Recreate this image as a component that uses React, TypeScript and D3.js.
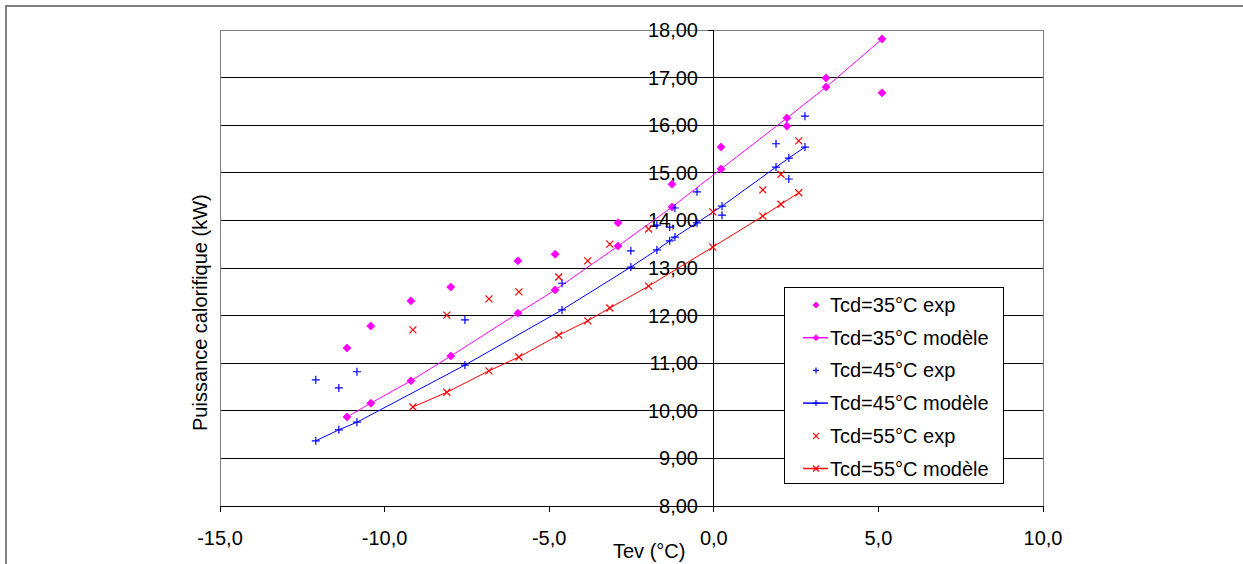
import React from 'react';
import * as d3 from 'd3';

// Tcd = 35°C
const tev35 = [-11.14, -10.42, -9.2, -7.99, -5.95, -4.82, -2.91, -1.27, 0.22, 2.22, 3.41, 5.11];
const exp35 = [11.32, 11.78, 12.31, 12.6, 13.15, 13.29, 13.95, 14.76, 15.54, 15.98, 16.99, 16.68];
const mod35 = [9.87, 10.16, 10.63, 11.15, 12.05, 12.54, 13.46, 14.28, 15.08, 16.15, 16.8, 17.81];

// Tcd = 45°C
const tev45 = [-12.09, -11.39, -10.84, -7.56, -4.61, -2.52, -1.73, -1.34, -1.18, -0.51, 0.25, 1.89, 2.28, 2.77];
const exp45 = [10.65, 10.48, 10.82, 11.91, 12.68, 13.36, 13.9, 13.86, 14.26, 14.6, 14.11, 15.61, 14.87, 16.19];
const mod45 = [9.37, 9.6, 9.76, 10.96, 12.12, 13.02, 13.38, 13.57, 13.65, 13.95, 14.3, 15.12, 15.31, 15.54];

// Tcd = 55°C
const tev55 = [-9.14, -8.11, -6.83, -5.92, -4.71, -3.83, -3.16, -1.98, -0.03, 1.49, 2.04, 2.58];
const exp55 = [11.7, 12.01, 12.35, 12.5, 12.81, 13.15, 13.5, 13.82, 14.18, 14.64, 14.97, 15.67];
const mod55 = [10.08, 10.39, 10.84, 11.13, 11.59, 11.89, 12.16, 12.62, 13.44, 14.09, 14.34, 14.58];

const xTicks = [-15, -10, -5, 0, 5, 10];
const yTicks = [8, 9, 10, 11, 12, 13, 14, 15, 16, 17, 18];

const legendLabels = [
  'Tcd=35°C exp',
  'Tcd=35°C modèle',
  'Tcd=45°C exp',
  'Tcd=45°C modèle',
  'Tcd=55°C exp',
  'Tcd=55°C modèle',
];

const W = 1243;
const H = 564;
const FONT = '"Liberation Sans", Arial, sans-serif';

const x = d3.scaleLinear().domain([-15, 10]).range([220, 1043]);
const y = d3.scaleLinear().domain([8, 18]).range([506, 30]);

const fmtX = (v: number) => v.toFixed(1).replace('.', ',');
const fmtY = (v: number) => v.toFixed(2).replace('.', ',');

type Kind = 'diamond' | 'plus' | 'cross';

function Marker({ kind, cx, cy, color, s }: { kind: Kind; cx: number; cy: number; color: string; s: number }) {
  if (kind === 'diamond') {
    return (
      <path
        d={`M${cx},${cy - s}L${cx + s},${cy}L${cx},${cy + s}L${cx - s},${cy}Z`}
        fill={color}
        stroke={color}
        strokeWidth={0.8}
      />
    );
  }
  if (kind === 'plus') {
    return (
      <path
        d={`M${cx - s},${cy}L${cx + s},${cy}M${cx},${cy - s}L${cx},${cy + s}`}
        stroke={color}
        strokeWidth={1.2}
        fill="none"
      />
    );
  }
  return (
    <path
      d={`M${cx - s},${cy - s}L${cx + s},${cy + s}M${cx - s},${cy + s}L${cx + s},${cy - s}`}
      stroke={color}
      strokeWidth={1.2}
      fill="none"
    />
  );
}

const series = [
  { tev: tev35, exp: exp35, mod: mod35, color: '#FF00FF', kind: 'diamond' as Kind, size: 4 },
  { tev: tev45, exp: exp45, mod: mod45, color: '#0000FF', kind: 'plus' as Kind, size: 4 },
  { tev: tev55, exp: exp55, mod: mod55, color: '#FF0000', kind: 'cross' as Kind, size: 3.5 },
];

export default function App() {
  const line = d3
    .line<[number, number]>()
    .x((d) => x(d[0]))
    .y((d) => y(d[1]));

  const legendX = 784;
  const legendY = 287;
  const legendW = 219;
  const legendH = 196;
  const rowY = (i: number) => 305 + i * 32.7;

  return (
    <svg
      width={W}
      height={H}
      style={{ position: 'absolute', left: 0, top: 0, background: '#fff' }}
      fontFamily={FONT}
    >
      <rect x={0} y={0} width={W} height={H} fill="#fff" />
      {/* outer frame */}
      <rect x={6} y={6} width={1260} height={620} fill="none" stroke="#808080" strokeWidth={2} />

      {/* gridlines */}
      {yTicks
        .filter((t) => t > 8 && t < 18)
        .map((t) => (
          <line
            key={'g' + t}
            x1={x(-15)}
            x2={x(10)}
            y1={y(t)}
            y2={y(t)}
            stroke="#000"
            strokeWidth={1}
            shapeRendering="crispEdges"
          />
        ))}
      {/* plot area border */}
      <rect
        x={x(-15)}
        y={y(18)}
        width={x(10) - x(-15)}
        height={y(8) - y(18)}
        fill="none"
        stroke="#808080"
        strokeWidth={1}
        shapeRendering="crispEdges"
      />

      {/* x axis */}
      <line x1={x(-15)} x2={x(10)} y1={y(8)} y2={y(8)} stroke="#000" shapeRendering="crispEdges" />
      {xTicks.map((t) => (
        <g key={'x' + t}>
          <line x1={x(t)} x2={x(t)} y1={y(8)} y2={y(8) + 6} stroke="#000" shapeRendering="crispEdges" />
          <text x={x(t)} y={545} fontSize={20} textAnchor="middle" fill="#000">
            {fmtX(t)}
          </text>
        </g>
      ))}

      {/* y axis at x = 0 */}
      <line x1={x(0)} x2={x(0)} y1={y(18)} y2={y(8)} stroke="#000" shapeRendering="crispEdges" />
      {yTicks.map((t) => (
        <g key={'y' + t}>
          <line x1={x(0) - 6} x2={x(0)} y1={y(t)} y2={y(t)} stroke="#000" shapeRendering="crispEdges" />
          <text x={698} y={y(t) + 7} fontSize={20} textAnchor="end" fill="#000">
            {fmtY(t)}
          </text>
        </g>
      ))}

      {/* axis titles */}
      <text x={613} y={558} fontSize={20} fill="#000">
        Tev (°C)
      </text>
      <text
        x={0}
        y={0}
        fontSize={20}
        fill="#000"
        transform={`translate(207,431) rotate(-90)`}
      >
        Puissance calorifique (kW)
      </text>

      {/* series */}
      {series.map((s, si) => {
        const modPts = s.tev.map((t, i) => [t, s.mod[i]] as [number, number]);
        return (
          <g key={'s' + si}>
            <path d={line(modPts) || ''} fill="none" stroke={s.color} strokeWidth={1} />
            {modPts.map((p, i) => (
              <Marker key={'m' + i} kind={s.kind} cx={x(p[0])} cy={y(p[1])} color={s.color} s={s.size} />
            ))}
            {s.tev.map((t, i) => (
              <Marker key={'e' + i} kind={s.kind} cx={x(t)} cy={y(s.exp[i])} color={s.color} s={s.size} />
            ))}
          </g>
        );
      })}

      {/* legend */}
      <rect
        x={legendX}
        y={legendY}
        width={legendW}
        height={legendH}
        fill="#fff"
        stroke="#000"
        strokeWidth={1}
        shapeRendering="crispEdges"
      />
      {legendLabels.map((lab, i) => {
        const s = series[Math.floor(i / 2)];
        const isModel = i % 2 === 1;
        const cy = rowY(i);
        return (
          <g key={'l' + i}>
            {isModel && <line x1={803} x2={828} y1={cy} y2={cy} stroke={s.color} strokeWidth={1.5} />}
            <Marker kind={s.kind} cx={816} cy={cy} color={s.color} s={s.kind === 'diamond' ? 3 : 3} />
            <text x={830} y={cy + 7} fontSize={20} fill="#000">
              {lab}
            </text>
          </g>
        );
      })}
    </svg>
  );
}
